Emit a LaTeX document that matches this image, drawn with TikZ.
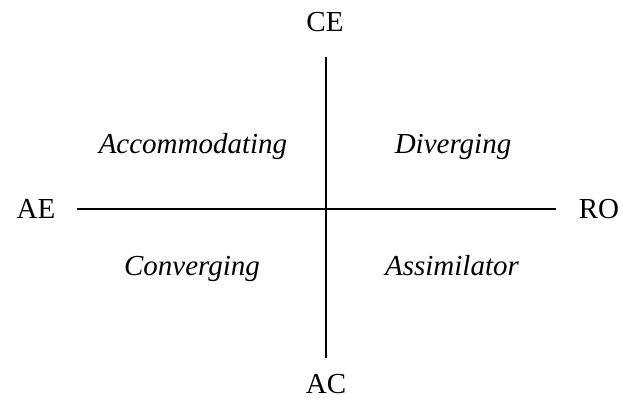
\documentclass[tikz,border=0pt]{standalone}
\usepackage{fontspec}
\setmainfont{Liberation Serif}
\begin{document}
\begin{tikzpicture}[x=1pt,y=-1pt,
  axislabel/.style={font=\fontsize{29}{33}\selectfont, inner sep=0pt, anchor=base},
  quad/.style={font=\fontsize{29}{33}\selectfont\itshape, inner sep=0pt, anchor=base},
  axis/.style={line width=1.6pt}]
\useasboundingbox (0,0) rectangle (623,401);
\node[axislabel] (ce) at (325,32) {CE};
\node[axislabel] (ac) at (326,393) {AC};
\node[axislabel] (ae) at (36,218) {AE};
\node[axislabel] (ro) at (599,218) {RO};
\coordinate (top) at (326,57);
\coordinate (bot) at (326,358);
\coordinate (left) at (77,209);
\coordinate (right) at (556,209);
\draw[axis] (top) -- (bot);
\draw[axis] (left) -- (right);
\node[quad] (acc) at (193,153) {Accommodating};
\node[quad] (div) at (453,153) {Diverging};
\node[quad] (con) at (192,275) {Converging};
\node[quad] (ass) at (452,275) {Assimilator};
\end{tikzpicture}
\end{document}
